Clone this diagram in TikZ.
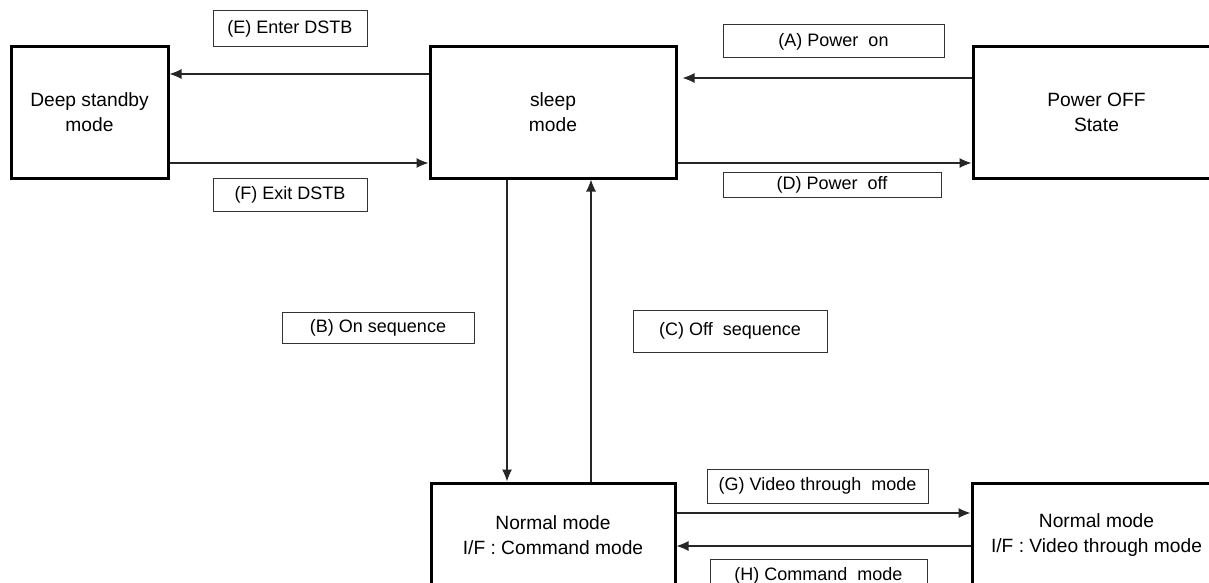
\documentclass[tikz,border=0pt]{standalone}
\usepackage{fontspec}
\setmainfont{Liberation Sans}
\usetikzlibrary{arrows.meta}
\begin{document}
\begin{tikzpicture}[x=0.5pt,y=-0.5pt,
  modebox/.style={draw=black,line width=1.5pt,align=center,inner sep=0pt,
    font=\fontsize{9.6pt}{12.5pt}\selectfont},
  tagbox/.style={draw=black!80,line width=0.5pt,inner sep=0pt,
    font=\fontsize{9pt}{11pt}\selectfont},
  trans/.style={draw=black!85,line width=0.55pt,-{Latex[length=6pt,width=5pt]}}]
\useasboundingbox (0,0) rectangle (1209,583);
\clip (0,0) rectangle (1209,583);

\node[modebox,minimum width=78.5pt,minimum height=65.5pt] (dstb) at (89.5,112.5) {Deep standby\\mode};
\node[modebox,minimum width=123pt,minimum height=65.5pt] (sleep) at (553,112.5) {sleep\\mode};
\node[modebox,minimum width=123.5pt,minimum height=65.5pt] (poff) at (1096.5,112.5) {Power OFF\\State};
\node[modebox,minimum width=122pt,minimum height=52pt] (cmd) at (553,535) {Normal mode\\I/F : Command mode};
\node[modebox,minimum width=124.5pt,minimum height=52pt] (video) at (1096.5,535) {Normal mode\\I/F : Video through mode};

\node[tagbox,minimum width=77pt,minimum height=18pt] (tagE) at (290,29) {(E) Enter DSTB};
\node[tagbox,minimum width=77pt,minimum height=16.5pt] (tagF) at (290,194.5) {(F) Exit DSTB};
\node[tagbox,minimum width=110.5pt,minimum height=16.5pt] (tagA) at (833.5,41.5) {(A) Power\ \ on};
\node[tagbox,minimum width=109pt,minimum height=12.5pt] (tagD) at (832,184.5) {(D) Power\ \ off};
\node[tagbox,minimum width=96pt,minimum height=15.5pt] (tagB) at (378,327.5) {(B) On sequence};
\node[tagbox,minimum width=97pt,minimum height=21pt] (tagC) at (730,331) {(C) Off\ \ sequence};
\node[tagbox,minimum width=110.5pt,minimum height=17pt] (tagG) at (817.5,486) {(G) Video through\ \ mode};
\node[tagbox,minimum width=108.5pt,minimum height=17pt] (tagH) at (818.5,576) {(H) Command\ \ mode};

\draw[trans] ([yshift=19.25pt]sleep.west) -- ([yshift=19.25pt]dstb.east);
\draw[trans] ([yshift=-25.25pt]dstb.east) -- ([yshift=-25.25pt]sleep.west);
\draw[trans] ([yshift=17.25pt]poff.west) -- ([yshift=17.25pt,xshift=2.5pt]sleep.east);
\draw[trans] ([yshift=-25.25pt]sleep.east) -- ([yshift=-25.25pt]poff.west);
\draw[trans] ([xshift=-23pt]sleep.south) -- ([xshift=-23pt]cmd.north);
\draw[trans] ([xshift=19pt]cmd.north) -- ([xshift=19pt]sleep.south);
\draw[trans] ([yshift=11pt]cmd.east) -- ([yshift=11pt]video.west);
\draw[trans] ([yshift=-5.5pt]video.west) -- ([yshift=-5.5pt]cmd.east);
\end{tikzpicture}
\end{document}
